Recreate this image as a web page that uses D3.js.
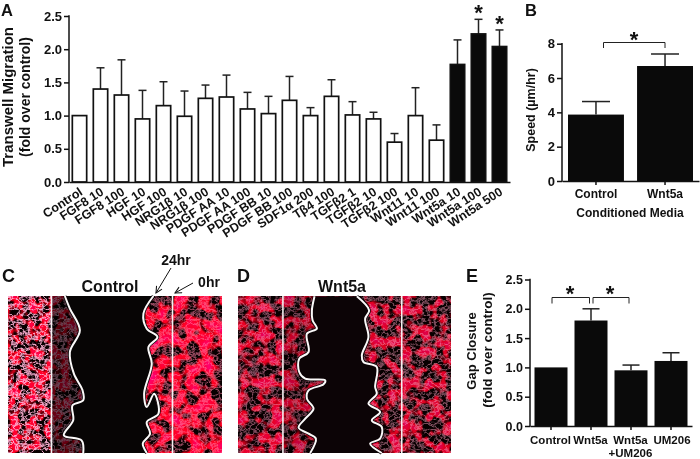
<!DOCTYPE html>
<html><head><meta charset="utf-8">
<script src="https://cdn.jsdelivr.net/npm/d3@7/dist/d3.min.js"></script>
<style>
html,body{margin:0;padding:0;background:#fff}
svg{display:block;filter:blur(0.35px)}
text{font-family:"Liberation Sans",Arial,sans-serif;font-weight:bold;fill:#111}
</style></head><body>
<svg id="chart" width="700" height="459"></svg>
<script>
// Panel A
const catsA=["Control","FGF8 10","FGF8 100","HGF 10","HGF 100","NRG1β 10","NRG1β 100","PDGF AA 10","PDGF AA 100","PDGF BB 10","PDGF BB 100","SDF1α 200","Tβ4 100","TGFβ2 1","TGFβ2 10","TGFβ2 100","Wnt11 10","Wnt11 100","Wnt5a 10","Wnt5a 100","Wnt5a 500"];
const valsA=[1.0,1.4,1.31,0.95,1.15,0.99,1.26,1.28,1.10,1.03,1.23,1.0,1.29,1.01,0.95,0.6,1.0,0.63,1.77,2.23,2.04];
const errA=[1.0,1.72,1.84,1.38,1.51,1.37,1.46,1.61,1.35,1.29,1.59,1.12,1.54,1.21,1.05,0.73,1.42,0.86,2.14,2.45,2.29];
const blackA=["Wnt5a 10","Wnt5a 100","Wnt5a 500"];
const starsA=["Wnt5a 100","Wnt5a 500"];
const ticksA=[0,0.5,1,1.5,2,2.5];
// Panel B
const catsB=["Control","Wnt5a"];
const valsB=[3.87,6.7];
const errB=[4.63,7.4];
const ticksB=[0,2,4,6,8];
// Panel E
const catsE=["Control","Wnt5a","Wnt5a+UM206","UM206"];
const valsE=[1.0,1.8,0.95,1.11];
const errE=[1.0,2.0,1.04,1.25];
const ticksE=[0,0.5,1,1.5,2,2.5];
// Traced wound edges, in micrograph crop units
const cEdgeL=[[195,197],[210,235],[240,300],[210,365],[222,430],[248,480],[250,510],[218,525],[220,570],[192,615],[245,630],[250,668]];
const cEdgeR=[[460,197],[430,250],[440,295],[472,320],[445,350],[455,400],[432,490],[440,530],[462,490],[475,550],[440,575],[450,610],[428,640],[440,668]];
const dEdgeL=[[268,198],[260,240],[262,270],[275,295],[245,310],[250,365],[222,385],[222,425],[240,445],[300,450],[295,462],[250,480],[245,505],[265,535],[240,565],[220,592],[250,610],[272,625],[255,668]];
const dEdgeR=[[395,198],[432,240],[420,265],[430,320],[410,375],[415,395],[455,410],[450,470],[455,490],[430,520],[465,545],[440,570],[470,590],[465,625],[435,640],[470,668]];

const svg=d3.select("#chart");
const defs=svg.append("defs");
defs.append("marker").attr("id","ah").attr("viewBox","0 0 10 10").attr("refX",9).attr("refY",5)
 .attr("markerWidth",8).attr("markerHeight",8).attr("orient","auto")
 .append("path").attr("d","M1,1L9,5L1,9").attr("fill","none").attr("stroke","#111").attr("stroke-width",1.3);

// Cell-like texture: red blobs from low-frequency noise, pale cell outlines from noise contours
function texture(id,seed,freq,gain,cut,redMax,wisp,wispOp){
 const f=defs.append("filter").attr("id",id).attr("x",0).attr("y",0).attr("width","100%").attr("height","100%")
   .attr("color-interpolation-filters","sRGB");
 f.append("feTurbulence").attr("type","fractalNoise").attr("baseFrequency",freq).attr("numOctaves",2).attr("seed",seed).attr("result","t1");
 f.append("feColorMatrix").attr("in","t1").attr("type","matrix")
  .attr("values",`${gain} 0 0 0 ${-gain*cut}  0 0 0 0 0  ${gain*0.12} 0 0 0 ${-gain*cut*0.12}  0 0 0 0 1`).attr("result","r0");
 const ct=f.append("feComponentTransfer").attr("in","r0").attr("result","red");
 ct.append("feFuncR").attr("type","linear").attr("slope",redMax).attr("intercept",0.03);
 f.append("feTurbulence").attr("type","fractalNoise").attr("baseFrequency","0.17 0.2").attr("numOctaves",3).attr("seed",seed+5).attr("result","t2");
 f.append("feColorMatrix").attr("in","t2").attr("type","matrix")
  .attr("values",`0 0 0 0 ${wisp[0]}  0 0 0 0 ${wisp[1]}  0 0 0 0 ${wisp[2]}  0 1 0 0 0`).attr("result","w0");
 const wt=f.append("feComponentTransfer").attr("in","w0").attr("result","w1");
 wt.append("feFuncA").attr("type","table").attr("tableValues",`0 0 0 0 ${wispOp} 0 0 0 0`);
 const m=f.append("feMerge").attr("result","mix");
 m.append("feMergeNode").attr("in","red");
 m.append("feMergeNode").attr("in","w1");
 f.append("feGaussianBlur").attr("in","mix").attr("stdDeviation",0.5);
}
texture("texCL",4,"0.1",7,0.43,1,[1,0.7,0.84],0.95);
texture("texCR",9,"0.075",8,0.4,1,[1,0.5,0.65],0.6);
texture("texDL",11,"0.085",7,0.43,0.88,[0.95,0.55,0.7],0.55);
texture("texDR",17,"0.095",7,0.44,0.85,[0.95,0.6,0.72],0.55);

function micrograph(x0,x1,cropX,edgeL,edgeR,lines,texL,texR,gapFill,shade){
 const y0=296,y1=453;
 const sx=d3.scaleLinear().domain(cropX).range([x0,x1]);
 const sy=d3.scaleLinear().domain([197,668]).range([y0,y1]);
 const g=svg.append("g");
 const mid=(sx(edgeL[0][0])+sx(edgeR[0][0]))/2;
 g.append("rect").attr("x",x0).attr("y",y0).attr("width",mid-x0).attr("height",y1-y0).attr("fill","#100").attr("filter",`url(#${texL})`);
 g.append("rect").attr("x",mid).attr("y",y0).attr("width",x1-mid).attr("height",y1-y0).attr("fill","#100").attr("filter",`url(#${texR})`);
 const line=d3.line().x(d=>sx(d[0])).y(d=>sy(d[1])).curve(d3.curveCatmullRom.alpha(0.5));
 const poly=d3.line().x(d=>sx(d[0])).y(d=>sy(d[1]));
 if(shade){
  g.append("path").attr("d",poly([[lines[0],197],...edgeL,[lines[0],668]])+"Z").attr("fill","#000").attr("opacity",shade);
 }
 g.append("path").attr("d",poly([...edgeL,...edgeR.slice().reverse()])+"Z").attr("fill",gapFill);
 [edgeL,edgeR].forEach(e=>{
  g.append("path").attr("d",line(e)).attr("fill","none").attr("stroke",gapFill).attr("stroke-width",3.5);
  g.append("path").attr("d",line(e)).attr("fill","none").attr("stroke","#fbf9f9").attr("stroke-width",2).attr("stroke-linejoin","round");
 });
 g.selectAll("line.v").data(lines).join("line").attr("x1",d=>sx(d)).attr("x2",d=>sx(d)).attr("y1",y0).attr("y2",y1)
  .attr("stroke","#f4f0f2").attr("stroke-width",1.6);
}
micrograph(8,222,[25,665],cEdgeL,cEdgeR,[155,517],"texCL","texCR","#070505",0.6);
micrograph(238,451,[38,678],dEdgeL,dEdgeR,[173,530],"texDL","texDR","#0c0406",0.15);

function drawAxes(g,x,y,ticks,fmt,tickLen,fs){
 const ya=g.append("g").attr("transform",`translate(${x.range()[0]},0)`).call(d3.axisLeft(y).tickValues(ticks).tickFormat(fmt).tickSize(5).tickSizeOuter(0));
 const xa=g.append("g").attr("transform",`translate(0,${y.range()[0]})`).call(d3.axisBottom(x).tickSize(tickLen).tickSizeOuter(0).tickFormat(""));
 [ya,xa].forEach(a=>{a.selectAll("path,line").attr("stroke","#111").attr("stroke-width",1.5);});
 ya.select("path").attr("d",`M0,${y.range()[1]-0.7}V${y.range()[0]+0.7}`);
 ya.selectAll("text").attr("font-size",fs).attr("x",-7).style("font-family","'Liberation Sans',Arial,sans-serif").style("font-weight","bold");
}
function errBars(g,cats,vals,errs,x,y,cap,skipFirst){
 cats.forEach((c,i)=>{
  if(skipFirst&&i===0)return;
  const cx=x(c)+x.bandwidth()/2;
  g.append("line").attr("x1",cx).attr("x2",cx).attr("y1",y(vals[i])).attr("y2",y(errs[i])).attr("stroke","#222").attr("stroke-width",1.5);
  g.append("line").attr("x1",cx-cap).attr("x2",cx+cap).attr("y1",y(errs[i])).attr("y2",y(errs[i])).attr("stroke","#222").attr("stroke-width",1.5);
 });
}
function label(t,x,y,fs,anchor,rot){
 const s=svg.append("text").text(t).attr("font-size",fs).attr("text-anchor",anchor||"middle");
 if(rot!==undefined) s.attr("transform",`translate(${x},${y}) rotate(${rot})`); else s.attr("x",x).attr("y",y);
 return s;
}
function bracket(a,b,top,bot){
 svg.append("path").attr("d",`M${a},${bot}V${top}H${b}V${bot}`).attr("fill","none").attr("stroke","#222").attr("stroke-width",1);
}

// A
{
 const x=d3.scaleBand().domain(catsA).range([69,510]).paddingInner(0.24).paddingOuter(0.12);
 const y=d3.scaleLinear().domain([0,2.5]).range([182,16]);
 const g=svg.append("g");
 errBars(g,catsA,valsA,errA,x,y,4,true);
 g.selectAll("rect").data(catsA).join("rect")
  .attr("x",d=>x(d)+0.8).attr("width",x.bandwidth()-1.6)
  .attr("y",(d,i)=>y(valsA[i])).attr("height",(d,i)=>y(0)-y(valsA[i]))
  .attr("fill",d=>blackA.includes(d)?"#0a0a0a":"#fff").attr("stroke","#111").attr("stroke-width",1.7);
 drawAxes(g,x,y,ticksA,d3.format(".1f"),0,13);
 catsA.forEach(c=>label(c,x(c)+x.bandwidth()/2+4,194,12.5,"end",-33));
 label("Transwell Migration",13,97,15,"middle",-90);
 label("(fold over control)",30,97,14,"middle",-90);
 starsA.forEach(c=>{
  const idx=catsA.indexOf(c);
  label("*",x(c)+x.bandwidth()/2,y(errA[idx])+1,22,"middle");
 });
}
// B
{
 const x=d3.scaleBand().domain(catsB).range([562,699]).paddingInner(0.19).paddingOuter(0.087);
 const y=d3.scaleLinear().domain([0,8]).range([181,43.7]);
 const g=svg.append("g");
 errBars(g,catsB,valsB,errB,x,y,14,false);
 g.selectAll("rect").data(catsB).join("rect").attr("x",d=>x(d)).attr("width",x.bandwidth())
  .attr("y",(d,i)=>y(valsB[i])).attr("height",(d,i)=>y(0)-y(valsB[i])).attr("fill","#0a0a0a");
 drawAxes(g,x,y,ticksB,d3.format("d"),4,13);
 catsB.forEach(c=>label(c,x(c)+x.bandwidth()/2,198,12));
 label("Conditioned Media",630,217,12);
 label("Speed (µm/hr)",535,110,12.5,"middle",-90);
 bracket(603.5,665,42.5,48);
 label("*",634,47,22);
}
// E
{
 const x=d3.scaleBand().domain(catsE).range([530,692]).paddingInner(0.175).paddingOuter(0.1125);
 const y=d3.scaleLinear().domain([0,2.5]).range([426,279.5]);
 const g=svg.append("g");
 errBars(g,catsE,valsE,errE,x,y,8.5,true);
 g.selectAll("rect").data(catsE).join("rect").attr("x",d=>x(d)).attr("width",x.bandwidth())
  .attr("y",(d,i)=>y(valsE[i])).attr("height",(d,i)=>y(0)-y(valsE[i])).attr("fill","#0a0a0a");
 drawAxes(g,x,y,ticksE,d3.format(".1f"),4,12.5);
 const cx=c=>x(c)+x.bandwidth()/2;
 label("Control",cx("Control")-0.5,444,11.5);
 label("Wnt5a",cx("Wnt5a")-0.5,444,11.5);
 label("Wnt5a",cx("Wnt5a+UM206")-0.5,444,11.5);
 label("+UM206",cx("Wnt5a+UM206")-0.5,456.5,11.5);
 label("UM206",cx("UM206")+1,444,11.5);
 label("Gap Closure",476,351,13,"middle",-90);
 label("(fold over control)",492,350,13.5,"middle",-90);
 bracket(552,589.5,297.5,303.5);
 bracket(593,629,297.5,303.5);
 label("*",570,301,22);
 label("*",610,301,22);
}
// Panel letters & titles
label("A",1,15.5,16.5,"start");
label("B",525,15.5,16.5,"start");
label("C",2,282,18,"start");
label("D",237,282,18,"start");
label("E",466,282,18,"start");
label("Control",110,292,16);
label("Wnt5a",342,292,16);
label("24hr",176,265,14);
label("0hr",209,287,14);
[[171,268,156,293],[193,283,175,293]].forEach(a=>{
 svg.append("line").attr("x1",a[0]).attr("y1",a[1]).attr("x2",a[2]).attr("y2",a[3]).attr("stroke","#111").attr("stroke-width",1).attr("marker-end","url(#ah)");
});
</script>
</body></html>
